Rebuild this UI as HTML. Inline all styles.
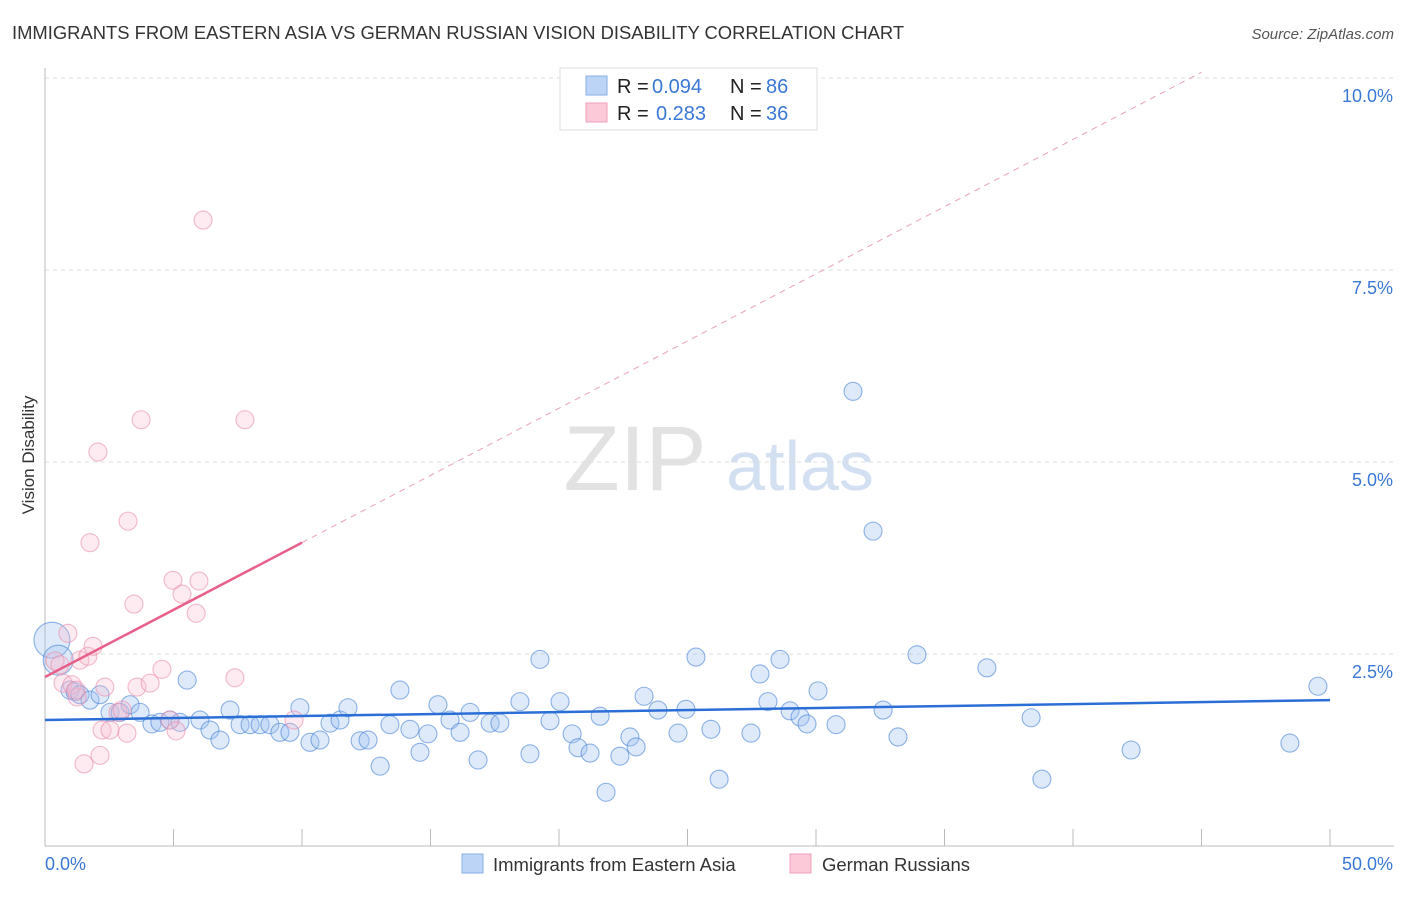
<!DOCTYPE html>
<html><head><meta charset="utf-8"><style>
body{margin:0;background:#fff;font-family:"Liberation Sans",sans-serif;}
svg text{font-family:"Liberation Sans",sans-serif;}
</style></head><body>
<svg id="chart" width="1406" height="892">
<text x="12" y="39" font-size="18.4" fill="#333">IMMIGRANTS FROM EASTERN ASIA VS GERMAN RUSSIAN VISION DISABILITY CORRELATION CHART</text>
<text x="1394" y="39" font-size="15" fill="#555" text-anchor="end" font-style="italic">Source: ZipAtlas.com</text>
<text x="34" y="455" font-size="17" fill="#333" text-anchor="middle" transform="rotate(-90 34 455)">Vision Disability</text>
<g><text x="635" y="490" font-size="92" fill="#e2e2e2" font-family="Liberation Serif" text-anchor="middle">ZIP</text><text x="800" y="490" font-size="70" fill="#d3e0f2" text-anchor="middle">atlas</text></g>
<g id="grid"></g><g id="axes"></g><g id="pts"></g><g id="lines"></g>
<g>
<rect x="560" y="68" width="257" height="62" fill="#fff" stroke="#ddd"/>
<rect x="586" y="76" width="21" height="19" fill="#bcd4f5" stroke="#86aee6"/>
<rect x="586" y="103" width="21" height="19" fill="#fbc9d8" stroke="#f0a0b8"/>
<text x="617" y="93" font-size="20" fill="#222">R =</text><text x="652" y="93" font-size="20" fill="#3a78d6">0.094</text>
<text x="730" y="93" font-size="20" fill="#222">N =</text><text x="766" y="93" font-size="20" fill="#3a78d6">86</text>
<text x="617" y="120" font-size="20" fill="#222">R =</text><text x="656" y="120" font-size="20" fill="#3a78d6">0.283</text>
<text x="730" y="120" font-size="20" fill="#222">N =</text><text x="766" y="120" font-size="20" fill="#3a78d6">36</text>
</g>
<g>
<rect x="462" y="854" width="21" height="19" fill="#bcd4f5" stroke="#86aee6"/>
<text x="493" y="871" font-size="18.5" fill="#333">Immigrants from Eastern Asia</text>
<rect x="790" y="854" width="21" height="19" fill="#fbc9d8" stroke="#f0a0b8"/>
<text x="822" y="871" font-size="18.5" fill="#333">German Russians</text>
</g>
</svg>
<script>
const yTicks=[2.5,5.0,7.5,10.0];
const yTickLabels=["2.5%","5.0%","7.5%","10.0%"];
const blueX=[0.27,0.51,0.97,1.17,1.36,1.75,2.14,2.53,2.92,3.31,3.70,4.16,4.47,4.86,5.25,5.53,6.03,6.42,6.81,7.20,7.59,7.98,8.37,8.75,9.14,9.53,9.92,10.31,10.70,11.09,11.48,11.79,12.26,12.57,13.04,13.42,13.81,14.20,14.59,14.90,15.29,15.76,16.15,16.54,16.85,17.32,17.70,18.48,18.87,19.26,19.65,20.04,20.51,20.74,21.21,21.60,21.83,22.37,22.76,23.00,23.31,23.85,24.63,24.94,25.33,25.91,26.23,27.47,27.82,28.13,28.60,28.99,29.38,29.65,30.08,30.78,31.44,32.22,32.61,33.19,33.93,36.65,38.37,38.79,42.26,48.44,49.53];
const blueY=[2.68,2.42,2.03,2.01,1.97,1.90,1.97,1.74,1.74,1.84,1.74,1.59,1.61,1.64,1.61,2.16,1.64,1.51,1.38,1.77,1.58,1.58,1.58,1.58,1.48,1.48,1.80,1.35,1.38,1.60,1.64,1.80,1.37,1.38,1.04,1.58,2.03,1.52,1.22,1.46,1.84,1.64,1.48,1.74,1.12,1.60,1.60,1.88,1.20,2.43,1.63,1.88,1.46,1.28,1.21,1.69,0.70,1.17,1.42,1.29,1.95,1.77,1.47,1.78,2.46,1.52,0.87,1.47,2.24,1.88,2.43,1.76,1.68,1.59,2.02,1.58,5.92,4.10,1.77,1.42,2.49,2.32,1.67,0.87,1.25,1.34,2.08];
const blueSize=[18,15];
const pinkX=[0.39,0.58,0.70,0.89,1.05,1.25,1.36,1.52,1.67,1.75,1.87,2.06,2.22,2.33,2.53,2.84,3.00,3.19,3.23,3.46,3.58,3.74,4.09,4.55,4.86,4.98,5.10,5.33,5.88,5.99,6.15,7.39,7.78,9.69,2.14,1.21];
const pinkY=[2.41,2.36,2.12,2.77,2.10,1.94,2.42,1.07,2.47,3.95,2.60,5.13,1.51,2.07,1.51,1.74,1.77,1.47,4.23,3.15,2.07,5.55,2.12,2.30,1.64,3.46,1.50,3.28,3.03,3.45,8.15,2.19,5.55,1.64,1.18,2.03];
const blueTrend=[1.64,1.90];
const pinkTrend=[2.20,0.175];
const NS="http://www.w3.org/2000/svg";
const X0=45,X1=1330,Y0=846,PX=(X1-X0)/50,PY=76.8;
const sx=v=>X0+v*PX, sy=v=>Y0-v*PY;
function mk(t,a,p){const e=document.createElementNS(NS,t);for(const k in a)e.setAttribute(k,a[k]);p.appendChild(e);return e;}
const grid=document.getElementById('grid'),axes=document.getElementById('axes'),pts=document.getElementById('pts'),lines=document.getElementById('lines');
yTicks.forEach((v,i)=>{
 const g=mk('line',{x1:X0,x2:1394,y1:sy(v),y2:sy(v),stroke:'#ddd','stroke-dasharray':'4,4'},grid);
 
 
 const t=mk('text',{x:1393,y:sy(v)+24,'font-size':18,fill:'#3a78d6','text-anchor':'end'},axes);
 t.textContent=yTickLabels[i];
 
 
});
mk('line',{x1:X0,x2:X0,y1:68,y2:Y0,stroke:'#bbb'},axes);
mk('line',{x1:X0,x2:1394,y1:Y0,y2:Y0,stroke:'#bbb'},axes);
for(let i=1;i<=10;i++){mk('line',{x1:sx(i*5),x2:sx(i*5),y1:Y0,y2:Y0-17,stroke:'#bbb'},axes);}
const xl=mk('text',{x:45,y:870,'font-size':18,fill:'#3a78d6'},axes);xl.textContent='0.0%';


const xr=mk('text',{x:1393,y:870,'font-size':18,fill:'#3a78d6','text-anchor':'end'},axes);xr.textContent='50.0%';


blueX.forEach((v,i)=>{
 const c=mk('circle',{cx:sx(v),cy:sy(blueY[i]),r:blueSize[i]||9,fill:'rgba(160,195,240,0.35)',stroke:'rgba(70,130,215,0.6)','stroke-width':1.1},pts);
 
 
});
pinkX.forEach((v,i)=>{
 const c=mk('circle',{cx:sx(v),cy:sy(pinkY[i]),r:9,fill:'rgba(250,190,208,0.3)',stroke:'rgba(235,140,170,0.6)','stroke-width':1.1},pts);
 
 
});
const bl=mk('line',{x1:sx(0),y1:sy(blueTrend[0]),x2:sx(50),y2:sy(blueTrend[1]),stroke:'#2b6fd6','stroke-width':2.5},lines);


const pl=mk('line',{x1:sx(0),y1:sy(pinkTrend[0]),x2:sx(10),y2:sy(pinkTrend[0]+10*pinkTrend[1]),stroke:'#e8608a','stroke-width':2.5},lines);


const pd=mk('line',{x1:sx(10),y1:sy(pinkTrend[0]+10*pinkTrend[1]),x2:sx(45),y2:sy(pinkTrend[0]+45*pinkTrend[1]),stroke:'#eaa0b6','stroke-width':1,'stroke-dasharray':'6,5'},lines);


</script>
</body></html>
